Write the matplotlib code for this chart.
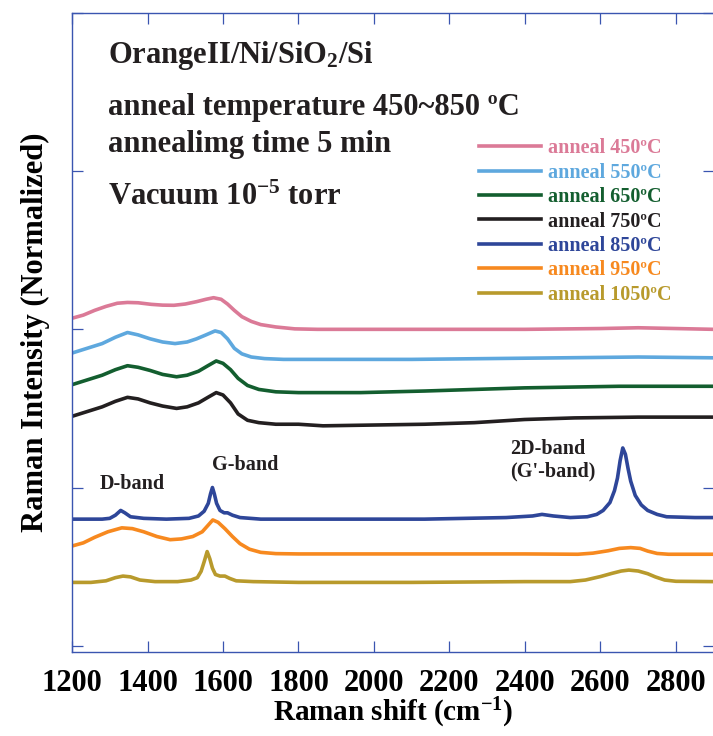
import numpy as np
import matplotlib
matplotlib.use('Agg')
import matplotlib.pyplot as plt
from matplotlib import rcParams

rcParams['font.family'] = 'Liberation Serif'
rcParams['font.weight'] = 'bold'
rcParams['axes.labelweight'] = 'bold'
rcParams['mathtext.fontset'] = 'custom'
rcParams['mathtext.rm'] = 'Liberation Serif:bold'
rcParams['mathtext.it'] = 'Liberation Serif:bold'
rcParams['mathtext.bf'] = 'Liberation Serif:bold'

## spectra (offset, normalized)
x450 = [1200, 1230, 1260, 1290, 1320, 1347, 1375, 1410, 1440, 1470, 1500, 1530, 1555, 1575, 1595, 1612, 1630, 1650, 1675,
        1700, 1740, 1790, 1850, 2000, 2200, 2400, 2600, 2700, 2800, 2900]
y450 = [2.07, 2.09, 2.12, 2.145, 2.165, 2.17, 2.168, 2.158, 2.153, 2.152, 2.16, 2.175, 2.19, 2.20, 2.19, 2.16, 2.12, 2.08, 2.05,
        2.03, 2.015, 2.003, 2.0, 2.0, 2.0, 2.0, 2.005, 2.01, 2.005, 2.0]

x550 = [1200, 1240, 1280, 1315, 1347, 1375, 1407, 1440, 1473, 1505, 1530, 1555, 1579, 1595, 1612, 1630, 1650, 1675, 1710,
        1760, 1900, 2100, 2300, 2500, 2700, 2900]
y550 = [1.85, 1.88, 1.91, 1.95, 1.98, 1.965, 1.94, 1.92, 1.91, 1.92, 1.94, 1.965, 1.99, 1.98, 1.94, 1.88, 1.845, 1.825, 1.815,
        1.81, 1.81, 1.81, 1.815, 1.82, 1.825, 1.82]

x650 = [1200, 1240, 1280, 1315, 1347, 1375, 1407, 1440, 1477, 1505, 1535, 1560, 1582, 1600, 1620, 1640, 1665, 1695, 1740,
        1800, 1965, 2134, 2399, 2650, 2900]
y650 = [1.65, 1.68, 1.71, 1.745, 1.77, 1.76, 1.74, 1.715, 1.70, 1.71, 1.735, 1.77, 1.80, 1.785, 1.745, 1.69, 1.645, 1.62, 1.605,
        1.60, 1.60, 1.61, 1.63, 1.64, 1.64]

x750 = [1200, 1240, 1280, 1315, 1347, 1375, 1407, 1440, 1477, 1505, 1535, 1560, 1582, 1600, 1620, 1640, 1665, 1695, 1740,
        1800, 1865, 2134, 2266, 2399, 2531, 2700, 2900]
y750 = [1.45, 1.48, 1.51, 1.545, 1.57, 1.56, 1.535, 1.515, 1.50, 1.51, 1.535, 1.57, 1.60, 1.585, 1.535, 1.465, 1.425, 1.41, 1.40,
        1.40, 1.39, 1.40, 1.41, 1.43, 1.44, 1.445, 1.445]

x850 = [1200, 1280, 1300, 1315, 1329, 1340, 1355, 1390, 1450, 1510, 1535, 1550, 1561, 1567, 1572, 1577, 1583, 1592, 1603, 1612,
        1625, 1645, 1700, 1900, 2134, 2350, 2420, 2445, 2475, 2520,
        2565, 2590, 2607, 2625, 2637, 2645, 2652, 2659, 2666, 2673, 2680, 2692, 2708, 2725, 2750, 2775, 2850, 2900]
y850 = [0.80, 0.80, 0.805, 0.825, 0.855, 0.84, 0.815, 0.805, 0.80, 0.805, 0.82, 0.85, 0.90, 0.96, 1.00, 0.96, 0.90, 0.855, 0.84, 0.84,
        0.825, 0.81, 0.80, 0.80, 0.80, 0.81, 0.82, 0.83, 0.82, 0.81,
        0.815, 0.83, 0.855, 0.905, 0.98, 1.06, 1.17, 1.25, 1.21, 1.12, 1.04, 0.95, 0.89, 0.855, 0.83, 0.815, 0.81, 0.81]

x950 = [1200, 1230, 1260, 1295, 1332, 1360, 1390, 1425, 1460, 1490, 1520, 1545, 1560, 1573, 1587, 1605, 1625, 1645, 1670, 1700,
        1740, 1800, 2000, 2200, 2400, 2540, 2580, 2620, 2650, 2680, 2705, 2725, 2750, 2780, 2900]
y950 = [0.63, 0.65, 0.685, 0.72, 0.745, 0.74, 0.72, 0.69, 0.67, 0.675, 0.69, 0.72, 0.76, 0.795, 0.78, 0.74, 0.69, 0.645, 0.61, 0.59,
        0.582, 0.58, 0.58, 0.58, 0.58, 0.578, 0.585, 0.60, 0.615, 0.62, 0.615, 0.598, 0.583, 0.578, 0.578]

x1050 = [1200, 1250, 1290, 1315, 1335, 1355, 1380, 1420, 1480, 1515, 1532, 1542, 1550, 1558, 1565, 1572, 1580, 1592, 1605, 1618,
         1635, 1680, 1800, 2100, 2400, 2520, 2560, 2600, 2630, 2655, 2675, 2700, 2725, 2745, 2770, 2800, 2900]
y1050 = [0.40, 0.40, 0.41, 0.43, 0.44, 0.435, 0.415, 0.405, 0.405, 0.415, 0.43, 0.47, 0.53, 0.595, 0.55, 0.49, 0.45, 0.44, 0.44, 0.425,
         0.41, 0.405, 0.40, 0.40, 0.405, 0.405, 0.415, 0.437, 0.457, 0.472, 0.478, 0.472, 0.455, 0.435, 0.415, 0.407, 0.405]

labels = ['anneal 450ºC', 'anneal 550ºC', 'anneal 650ºC', 'anneal 750ºC',
          'anneal 850ºC', 'anneal 950ºC', 'anneal 1050ºC']
colors = ['#db7a97', '#5ea8de', '#135e2f', '#231f20', '#2e4699', '#f7891f', '#b89a2c']
xs = [x450, x550, x650, x750, x850, x950, x1050]
ys = [y450, y550, y650, y750, y850, y950, y1050]

fig = plt.figure(figsize=(7.13, 7.36), dpi=100)
ax = fig.add_axes([72/713., 84/736., 641.75/713., 639/736.])

for x, y, c, lab in zip(xs, ys, colors, labels):
    ax.plot(x, y, color=c, lw=2.6, label=lab, solid_joinstyle='round')

ax.set_xlim(1200, 2900)
ax.set_ylim(-0.04, 4.0)
ax.set_xticks(np.arange(1200, 2900, 200))
ax.set_yticks([0, 1, 2, 3, 4])
ax.set_yticklabels([])
spcol = '#3a55b0'
for s in ax.spines.values():
    s.set_color(spcol)
    s.set_linewidth(1.0)
ax.tick_params(direction='in', length=8, width=0.9, color=spcol,
               top=True, right=True, labelsize=22, pad=12)

ax.set_xlabel('Raman shift (cm$^{-1}$)', fontsize=21, labelpad=-1)
ax.set_ylabel('Raman Intensity (Normalized)', fontsize=22)
ax.yaxis.set_label_coords(-0.035, 0.5)

tx = (108-72)/641.75
ax.text(tx, 0.922, 'OrangeII/Ni/SiO$_2$/Si', transform=ax.transAxes, fontsize=22, color='#231f20', va='baseline')
ax.text(tx, 0.840, 'anneal temperature 450~850 ºC', transform=ax.transAxes, fontsize=22, color='#231f20', va='baseline')
ax.text(tx, 0.782, 'annealimg time 5 min', transform=ax.transAxes, fontsize=22, color='#231f20', va='baseline')
ax.text(tx, 0.700, 'Vacuum 10$^{-5}$ torr', transform=ax.transAxes, fontsize=22, color='#231f20', va='baseline')

ax.text(1359, 0.99, 'D-band', fontsize=14.5, color='#231f20', ha='center', va='baseline')
ax.text(1658, 1.11, 'G-band', fontsize=14.5, color='#231f20', ha='center', va='baseline')
ax.text(2360, 1.07, "2D-band\n(G'-band)", fontsize=14.5, color='#231f20', ha='left', va='baseline',
        linespacing=1.15)

ax.legend(loc='upper left', bbox_to_anchor=(0.634, 0.804), frameon=False, fontsize=14.5,
          labelcolor='linecolor', handlelength=3.1, handletextpad=0.35, labelspacing=0.22,
          borderpad=0, borderaxespad=0)

plt.savefig('out.png', dpi=100)
